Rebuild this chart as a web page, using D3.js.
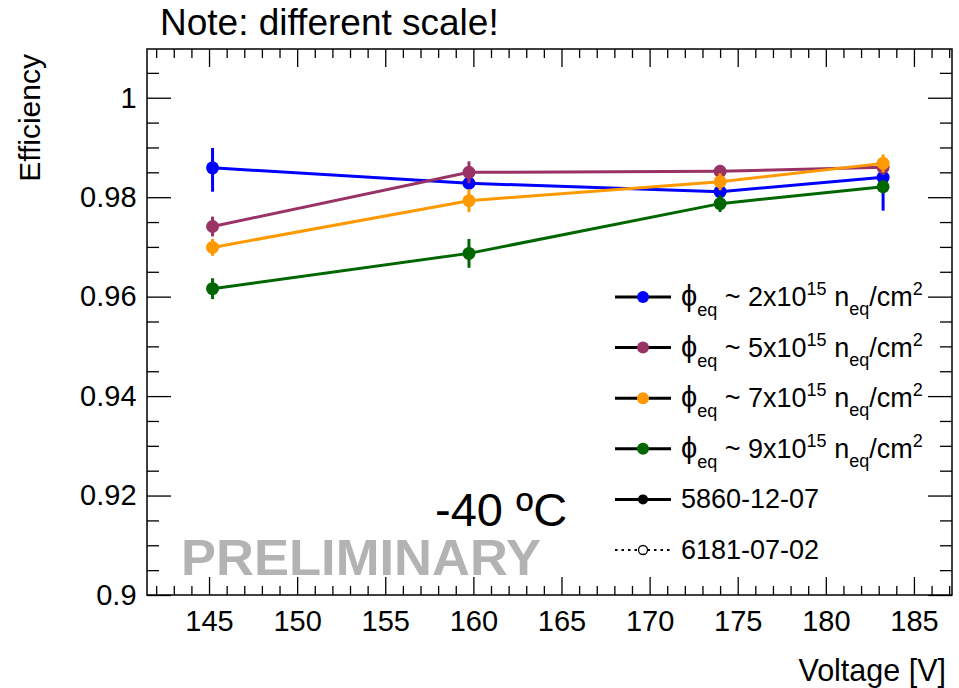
<!DOCTYPE html>
<html>
<head>
<meta charset="utf-8">
<title>Efficiency vs Voltage</title>
<script src="https://cdn.jsdelivr.net/npm/d3@7"></script>
<style>
body { margin: 0; background: #ffffff; }
text { font-family: "Liberation Sans", Arial, sans-serif; fill: #000000; }
</style>
</head>
<body>
<div id="chart"></div>
<script>
// Values
var voltages = [145.2, 159.75, 174.0, 183.25];

var eff2 = [0.9859, 0.9828, 0.9811, 0.9840],
    eff5 = [0.9741, 0.9850, 0.9852, 0.9860],
    eff7 = [0.9699, 0.9793, 0.9831, 0.9868],
    eff9 = [0.9616, 0.9687, 0.9787, 0.9821];

var errUp2 = [0.0040, 0.0012, 0.0012, 0.0030],
    errDown2 = [0.0048, 0.0012, 0.0012, 0.0067],
    err5 = [0.0020, 0.0022, 0.0013, 0.0015],
    err7 = [0.0017, 0.0023, 0.0017, 0.0018],
    err9 = [0.0021, 0.0029, 0.0017, 0.0013];

var fluences = ["2", "5", "7", "9"],
    colors = ["#0000ff", "#993366", "#ff9900", "#006600"];

var xTicks = [145, 150, 155, 160, 165, 170, 175, 180, 185],
    yTicks = [0.9, 0.92, 0.94, 0.96, 0.98, 1];

var runs = ["5860-12-07", "6181-07-02"];

var series = [
    { vals: eff2, up: errUp2, down: errDown2 },
    { vals: eff5, up: err5, down: err5 },
    { vals: eff7, up: err7, down: err7 },
    { vals: eff9, up: err9, down: err9 }
];

var width = 959,
    height = 688,
    frame = { left: 147, right: 952, top: 49, bottom: 595 };

var x = d3.scaleLinear()
    .domain([141.48, 187.16])
    .range([frame.left, frame.right]);
var y = d3.scaleLinear()
    .domain([0.9, 1.0098])
    .range([frame.bottom, frame.top]);

var svg = d3.select('#chart').append('svg')
    .attr('width', width)
    .attr('height', height);

var xMinor = d3.range(142, 188, 1).filter(d => d % 5 != 0),
    yMinor = d3.range(0, 22).map(i => 0.9 + i * 0.005).filter((d, i) => i % 4 != 0);

function styleAxis(g) {
    g.select('.domain').remove();
    g.selectAll('line').attr('stroke', '#000').attr('stroke-width', 1.3);
}

// major + minor ticks, all pointing inwards
function addAxis(axisFn, scale, major, minor, majorLen, minorLen, tr, labels) {
    svg.append('g')
        .attr('transform', tr)
        .call(axisFn(scale).tickValues(minor).tickSize(-minorLen).tickFormat(''))
        .call(styleAxis);
    var g = svg.append('g')
        .attr('class', 'axis')
        .attr('transform', tr)
        .call(axisFn(scale).tickValues(major).tickSize(-majorLen).tickPadding(labels ? 9 : 0)
            .tickFormat(labels ? d3.format('') : ''))
        .call(styleAxis);
    g.selectAll('text')
        .attr('font-size', '29px')
        .attr('font-family', '"Liberation Sans", Arial, sans-serif')
        .attr('fill', '#000');
    return g;
}

var gx = addAxis(d3.axisBottom, x, xTicks, xMinor, 18, 9, 'translate(0,' + frame.bottom + ')', true);
gx.selectAll('text').attr('dy', '0.93em');
addAxis(d3.axisTop, x, xTicks, xMinor, 18, 9, 'translate(0,' + frame.top + ')', false);
var gy = addAxis(d3.axisLeft, y, yTicks, yMinor, 24, 12, 'translate(' + frame.left + ',0)', true);
gy.selectAll('text').attr('dx', '-0.05em');
addAxis(d3.axisRight, y, yTicks, yMinor, 24, 12, 'translate(' + frame.right + ',0)', false);

svg.append('rect')
    .attr('x', frame.left)
    .attr('y', frame.top)
    .attr('width', frame.right - frame.left)
    .attr('height', frame.bottom - frame.top)
    .attr('fill', 'none')
    .attr('stroke', '#000')
    .attr('stroke-width', 1.5);

// Axis titles
svg.append('text')
    .attr('transform', 'translate(40,54) rotate(-90)')
    .attr('text-anchor', 'end')
    .attr('font-size', '30px')
    .text('Efficiency');
svg.append('text')
    .attr('x', 946)
    .attr('y', 681)
    .attr('text-anchor', 'end')
    .attr('font-size', '30.5px')
    .text('Voltage [V]');

svg.append('text')
    .attr('x', 160)
    .attr('y', 35)
    .attr('font-size', '37px')
    .text('Note: different scale!');

svg.append('text')
    .attr('x', 181)
    .attr('y', 575)
    .attr('font-size', '50px')
    .attr('font-weight', 'bold')
    .attr('textLength', 360)
    .attr('lengthAdjust', 'spacingAndGlyphs')
    .style('fill', '#b3b3b3')
    .text('PRELIMINARY');

svg.append('text')
    .attr('x', 435)
    .attr('y', 526)
    .attr('font-size', '47px')
    .text('-40 ºC');

// Data
var line = d3.line()
    .x(d => x(d.v))
    .y(d => y(d.e));

series.forEach(function(s, k) {
    var pts = voltages.map((v, i) => ({ v: v, e: s.vals[i], up: s.up[i], down: s.down[i] }));
    var g = svg.append('g').attr('class', 'series');
    g.append('path')
        .datum(pts)
        .attr('d', line)
        .attr('fill', 'none')
        .attr('stroke', colors[k])
        .attr('stroke-width', 3);
    g.selectAll('.err')
        .data(pts)
      .enter().append('line')
        .attr('class', 'err')
        .attr('x1', d => x(d.v))
        .attr('x2', d => x(d.v))
        .attr('y1', d => y(d.e + d.up))
        .attr('y2', d => y(d.e - d.down))
        .attr('stroke', colors[k])
        .attr('stroke-width', 3);
    g.selectAll('.pt')
        .data(pts)
      .enter().append('circle')
        .attr('class', 'pt')
        .attr('cx', d => x(d.v))
        .attr('cy', d => y(d.e))
        .attr('r', 6.5)
        .attr('fill', colors[k]);
});

// Legend
var legX = 615,
    legY = 297,
    legStep = 50.6;

var leg = svg.append('g').attr('class', 'legend');

fluences.forEach(function(f, i) {
    var yy = legY + i * legStep;
    leg.append('line')
        .attr('x1', legX).attr('x2', legX + 56)
        .attr('y1', yy).attr('y2', yy)
        .attr('stroke', '#000').attr('stroke-width', 3);
    leg.append('circle')
        .attr('cx', legX + 28).attr('cy', yy)
        .attr('r', 6)
        .attr('fill', colors[i]);
    var t = leg.append('text')
        .attr('x', legX + 66)
        .attr('y', yy + 9)
        .attr('font-size', '27px');
    t.append('tspan').attr('font-size', '29px').text('\u03D5');
    t.append('tspan').attr('font-size', '18px').attr('dy', 10).text('eq');
    t.append('tspan').attr('dy', -10).text(' ~ ' + f + 'x10');
    t.append('tspan').attr('font-size', '18px').attr('dy', -11).text('15');
    t.append('tspan').attr('dy', 11).text(' n');
    t.append('tspan').attr('font-size', '18px').attr('dy', 9).text('eq');
    t.append('tspan').attr('dy', -9).text('/cm');
    t.append('tspan').attr('font-size', '18px').attr('dy', -11).text('2');
});

runs.forEach(function(r, j) {
    var yy = legY + (4 + j) * legStep;
    leg.append('line')
        .attr('x1', legX).attr('x2', legX + 56)
        .attr('y1', yy).attr('y2', yy)
        .attr('stroke', '#000')
        .attr('stroke-width', j == 0 ? 3 : 2.2)
        .attr('stroke-dasharray', j == 0 ? null : '2.5,4');
    leg.append('circle')
        .attr('cx', legX + 28).attr('cy', yy)
        .attr('r', j == 0 ? 5 : 4.5)
        .attr('fill', j == 0 ? '#000' : '#fff')
        .attr('stroke', '#000')
        .attr('stroke-width', j == 0 ? 0 : 1.3);
    leg.append('text')
        .attr('x', legX + 66)
        .attr('y', yy + 9)
        .attr('font-size', '27px')
        .text(r);
});
</script>
</body>
</html>
